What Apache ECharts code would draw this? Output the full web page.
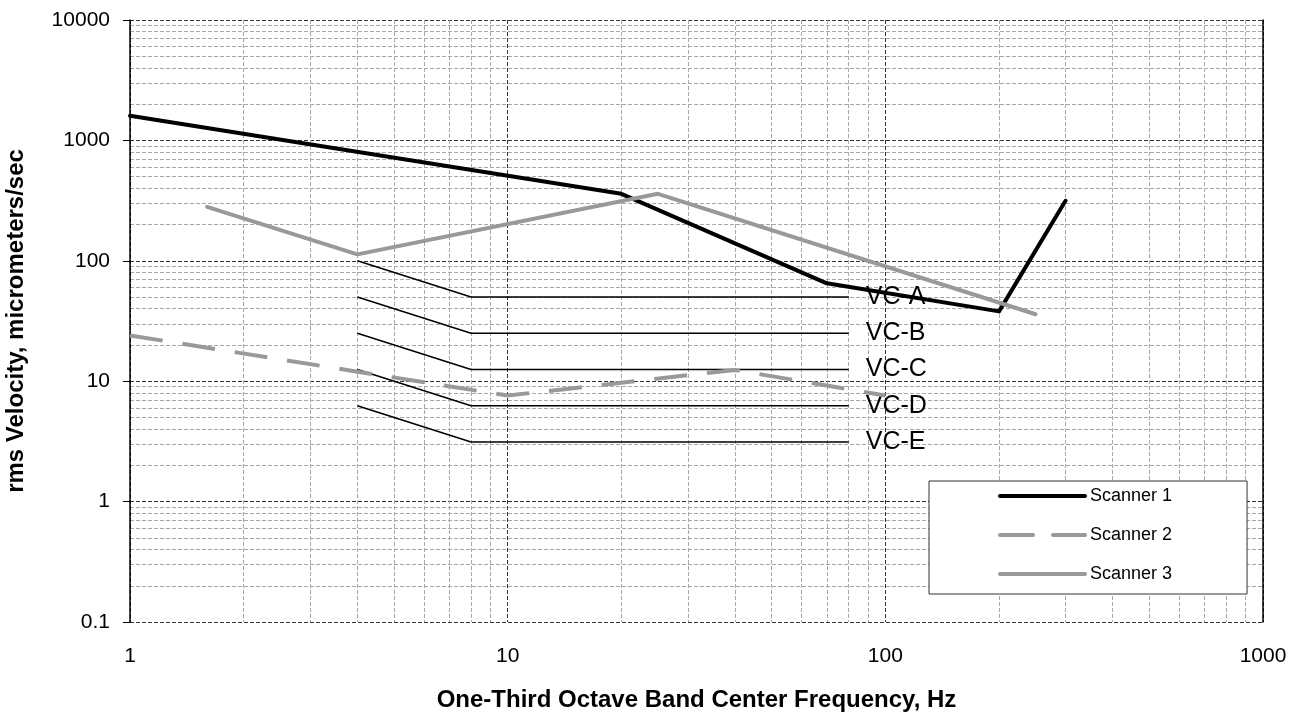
<!DOCTYPE html>
<html>
<head>
<meta charset="utf-8">
<script src="https://cdn.jsdelivr.net/npm/echarts@6/dist/echarts.min.js"></script>
<style>
  html, body { margin: 0; padding: 0; background: #fff; }
  #chart { width: 1301px; height: 717px; }
</style>
</head>
<body>
<div id="chart"></div>
<script>
// scanner curves (frequency Hz, rms velocity um/s)
const scanner1Freq = [1, 20, 70, 200, 300]
const scanner1Vel = [1600, 360, 65, 38, 315]
const scanner2Freq = [1, 4, 10, 40, 100]
const scanner2Vel = [24, 12, 7.6, 12.4, 7.6]
const scanner3Freq = [1.6, 4, 25, 250]
const scanner3Vel = [280, 113, 360, 36]

// vibration criteria curves
const vcFreq = [4, 8, 80]
const vcNames = ['VC-A', 'VC-B', 'VC-C', 'VC-D', 'VC-E']
const vcA = [100, 50, 50]
const vcB = [50, 25, 25]
const vcC = [25, 12.5, 12.5]
const vcD = [12.5, 6.25, 6.25]
const vcE = [6.25, 3.125, 3.125]

const font = 'Liberation Sans, Arial, sans-serif'

const pairs = (xs, ys) => xs.map((x, i) => [x, ys[i]])
const plain = (v) => String(+(+v).toPrecision(6))

let myChart = echarts.init(document.getElementById('chart'))

const vcSeries = [vcA, vcB, vcC, vcD, vcE].map((vals, i) => ({
    name: vcNames[i],
    type: 'line',
    z: 1,
    symbol: 'none',
    silent: true,
    data: pairs(vcFreq, vals),
    lineStyle: { color: '#000', width: 1.5 },
    endLabel: {
        show: true,
        formatter: vcNames[i],
        distance: 17,
        color: '#000',
        fontFamily: font,
        fontSize: 25
    }
}))

const gridMajor = { show: true, lineStyle: { color: '#333', width: 1, type: [4, 2] } }
const gridMinor = { show: true, lineStyle: { color: '#a8a8a8', width: 1, type: [4, 2] } }

const option = {
    animation: false,
    grid: { left: 130, right: 38, top: 20, bottom: 95, containLabel: false, outerBoundsMode: 'none' },
    legend: {
        orient: 'vertical',
        left: 929,
        top: 481,
        data: ['Scanner 1', 'Scanner 2', 'Scanner 3'],
        itemWidth: 85,
        itemHeight: 20,
        itemGap: 21,
        padding: [6, 75, 11, 69],
        borderColor: '#333',
        borderWidth: 1,
        backgroundColor: '#fff',
        itemStyle: { opacity: 0 },
        lineStyle: { width: 'inherit', type: 'inherit', cap: 'round' },
        textStyle: { color: '#000', fontFamily: font, fontSize: 18 }
    },
    xAxis: {
        type: 'log',
        logBase: 10,
        min: 1,
        max: 1000,
        name: 'One-Third Octave Band Center Frequency, Hz',
        nameLocation: 'middle',
        nameGap: 66,
        nameTextStyle: { color: '#000', fontFamily: font, fontSize: 24, fontWeight: 'bold' },
        axisLine: { show: false },
        axisTick: { show: false },
        axisLabel: { color: '#000', fontFamily: font, fontSize: 21, margin: 24, formatter: plain },
        splitLine: gridMajor,
        minorTick: { show: false, splitNumber: 9 },
        minorSplitLine: gridMinor
    },
    yAxis: [
        {
            type: 'log',
            logBase: 10,
            min: 0.1,
            max: 10000,
            name: 'rms Velocity, micrometers/sec',
            nameLocation: 'middle',
            nameGap: 102,
            nameTextStyle: { color: '#000', fontFamily: font, fontSize: 24, fontWeight: 'bold' },
            axisLine: { show: true, lineStyle: { color: '#000', width: 1.5 } },
            axisTick: { show: true, length: 7, lineStyle: { color: '#000' } },
            axisLabel: { color: '#000', fontFamily: font, fontSize: 21, margin: 20, formatter: plain },
            splitLine: gridMajor,
            minorTick: { show: false, splitNumber: 9 },
            minorSplitLine: gridMinor
        },
        {
            type: 'log',
            logBase: 10,
            min: 0.1,
            max: 10000,
            position: 'right',
            axisLine: { show: true, lineStyle: { color: '#000', width: 1.5 } },
            axisTick: { show: false },
            axisLabel: { show: false },
            splitLine: { show: false }
        }
    ],
    series: [
        ...vcSeries,
        {
            name: 'Scanner 1',
            type: 'line',
            z: 3,
            symbol: 'none',
            data: pairs(scanner1Freq, scanner1Vel),
            itemStyle: { color: '#000' },
            lineStyle: { color: '#000', width: 4, cap: 'round', join: 'round' }
        },
        {
            name: 'Scanner 2',
            type: 'line',
            z: 3,
            symbol: 'none',
            data: pairs(scanner2Freq, scanner2Vel),
            itemStyle: { color: '#999' },
            lineStyle: { color: '#999', width: 4, type: [33, 20], join: 'round' }
        },
        {
            name: 'Scanner 3',
            type: 'line',
            z: 4,
            symbol: 'none',
            data: pairs(scanner3Freq, scanner3Vel),
            itemStyle: { color: '#999' },
            lineStyle: { color: '#999', width: 4, cap: 'round', join: 'round' }
        }
    ]
}

myChart.setOption(option)
window.addEventListener('resize', () => {
    myChart.resize()
})
</script>
</body>
</html>
